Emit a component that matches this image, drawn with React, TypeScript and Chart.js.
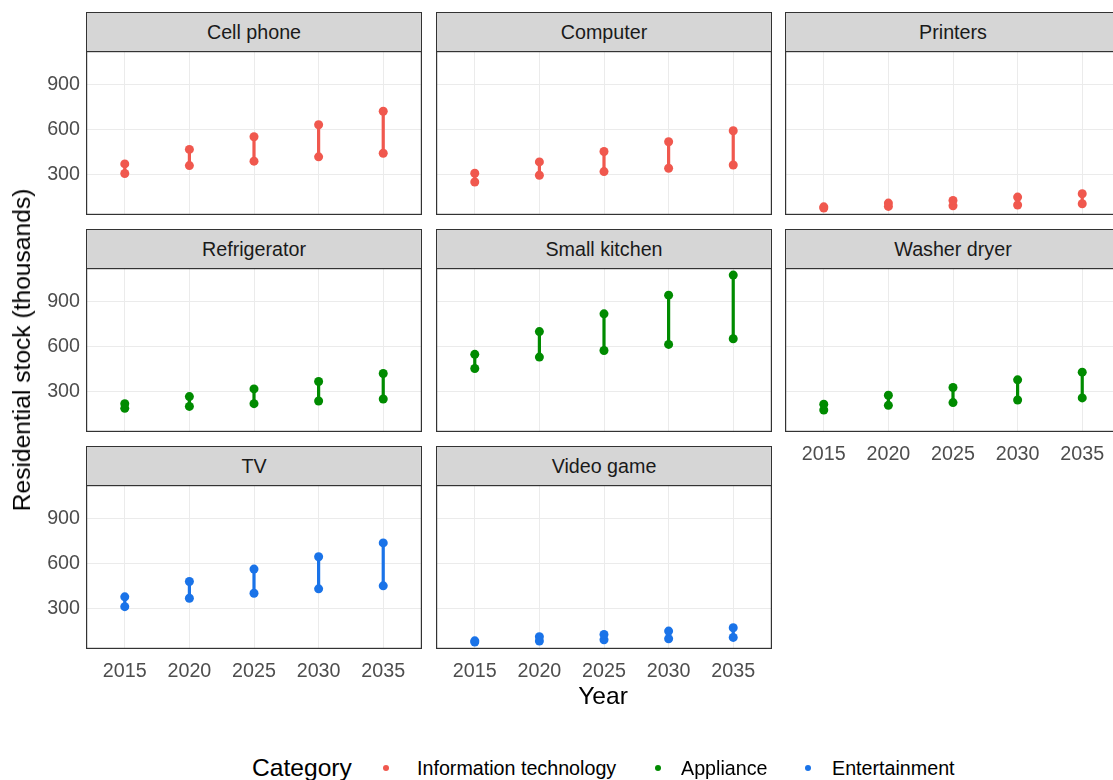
import React, { useEffect, useRef } from "react";
import { Chart, registerables } from "chart.js";

Chart.register(...registerables);

const YEARS = [2015, 2020, 2025, 2030, 2035];
const Y_TICKS = [300, 600, 900];

const CELL_LOW = [307, 360, 389, 418, 442];
const CELL_HIGH = [371, 467, 551, 631, 720];
const COMPUTER_LOW = [251, 296, 320, 342, 364];
const COMPUTER_HIGH = [309, 384, 453, 518, 591];
const PRINTERS_LOW = [78, 89, 93, 98, 107];
const PRINTERS_HIGH = [86, 111, 129, 151, 173];
const FRIDGE_LOW = [189, 202, 220, 238, 251];
const FRIDGE_HIGH = [220, 267, 318, 367, 420];
const KITCHEN_LOW = [453, 529, 573, 613, 651];
const KITCHEN_HIGH = [547, 698, 816, 940, 1073];
const WASHER_LOW = [178, 209, 227, 244, 258];
const WASHER_HIGH = [216, 276, 327, 378, 429];
const TV_LOW = [313, 369, 402, 431, 451];
const TV_HIGH = [378, 480, 562, 644, 736];
const GAME_LOW = [78, 85, 93, 100, 109];
const GAME_HIGH = [86, 114, 129, 151, 173];

const RED = "#F0584E";
const GREEN = "#008B00";
const BLUE = "#1A73E8";

const PANELS = [
  { name: "Cell phone", low: CELL_LOW, high: CELL_HIGH, color: RED, col: 0, row: 0, showX: false },
  { name: "Computer", low: COMPUTER_LOW, high: COMPUTER_HIGH, color: RED, col: 1, row: 0, showX: false },
  { name: "Printers", low: PRINTERS_LOW, high: PRINTERS_HIGH, color: RED, col: 2, row: 0, showX: false },
  { name: "Refrigerator", low: FRIDGE_LOW, high: FRIDGE_HIGH, color: GREEN, col: 0, row: 1, showX: false },
  { name: "Small kitchen", low: KITCHEN_LOW, high: KITCHEN_HIGH, color: GREEN, col: 1, row: 1, showX: false },
  { name: "Washer dryer", low: WASHER_LOW, high: WASHER_HIGH, color: GREEN, col: 2, row: 1, showX: true },
  { name: "TV", low: TV_LOW, high: TV_HIGH, color: BLUE, col: 0, row: 2, showX: true },
  { name: "Video game", low: GAME_LOW, high: GAME_HIGH, color: BLUE, col: 1, row: 2, showX: true },
];

const LEGEND = [
  { label: "Information technology", color: RED, dotX: 386, textX: 417 },
  { label: "Appliance", color: GREEN, dotX: 658, textX: 681 },
  { label: "Entertainment", color: BLUE, dotX: 808, textX: 832 },
];

const COL_X = [86, 436, 785];
const PANEL_W = 336;
const STRIP_Y = [12, 229, 446];
const STRIP_H = 39;
const PANEL_H = 164;
const LEFT_W = 60;
const BOTTOM_H = 40;
const FONT = "'Liberation Sans', Arial, Helvetica, sans-serif";

const borderPlugin = {
  id: "panelBorder",
  afterDraw(chart: any) {
    const { ctx, chartArea } = chart;
    ctx.save();
    ctx.strokeStyle = "#333333";
    ctx.lineWidth = 1.2;
    ctx.strokeRect(chartArea.left + 0.6, chartArea.top + 0.6, chartArea.right - chartArea.left - 1.2, chartArea.bottom - chartArea.top - 1.2);
    ctx.restore();
  },
};

const zeroPad = (s: any) => {
  s.paddingTop = 0;
  s.paddingBottom = 0;
  s.paddingLeft = 0;
  s.paddingRight = 0;
};

function Panel({ p }: { p: any }) {
  const ref = useRef<HTMLCanvasElement | null>(null);
  const showY = p.col === 0;
  const w = PANEL_W + (showY ? LEFT_W : 0);
  const h = PANEL_H + (p.showX ? BOTTOM_H : 0);
  const left = COL_X[p.col] - (showY ? LEFT_W : 0);
  const top = STRIP_Y[p.row] + STRIP_H;

  useEffect(() => {
    if (!ref.current) return;
    const datasets = YEARS.map((yr, i) => ({
      data: [
        { x: yr, y: p.low[i] },
        { x: yr, y: p.high[i] },
      ],
      borderColor: p.color,
      backgroundColor: p.color,
      borderWidth: 3.2,
      pointRadius: 4.5,
      pointBorderWidth: 0,
      pointBackgroundColor: p.color,
      clip: 6,
    }));
    const chart = new Chart(ref.current, {
      type: "line",
      data: { datasets },
      plugins: [borderPlugin],
      options: {
        responsive: false,
        animation: false,
        layout: { padding: 0, autoPadding: false },
        plugins: { legend: { display: false }, tooltip: { enabled: false } },
        scales: {
          x: {
            type: "linear",
            min: 2012,
            max: 2038,
            afterBuildTicks: (s: any) => {
              s.ticks = YEARS.map((v) => ({ value: v }));
            },
            afterFit: (s: any) => {
              s.height = p.showX ? BOTTOM_H : 0;
              zeroPad(s);
            },
            grid: { color: "#EBEBEB", lineWidth: 1, drawTicks: false },
            border: { display: false },
            ticks: {
              display: p.showX,
              color: "#4D4D4D",
              font: { family: FONT, size: 19.7 },
              padding: 11,
              maxRotation: 0,
              autoSkip: false,
              callback: (v: any) => String(v),
            },
          },
          y: {
            type: "linear",
            min: 32,
            max: 1120,
            afterBuildTicks: (s: any) => {
              s.ticks = Y_TICKS.map((v) => ({ value: v }));
            },
            afterFit: (s: any) => {
              s.width = showY ? LEFT_W : 0;
              zeroPad(s);
            },
            grid: { color: "#EBEBEB", lineWidth: 1, drawTicks: false },
            border: { display: false },
            ticks: {
              display: showY,
              color: "#4D4D4D",
              font: { family: FONT, size: 19.7 },
              padding: 6,
              callback: (v: any) => String(v),
            },
          },
        },
      } as any,
    });
    return () => chart.destroy();
  }, []);

  return (
    <>
      <div
        style={{
          position: "absolute",
          left: COL_X[p.col],
          top: STRIP_Y[p.row],
          width: PANEL_W,
          height: STRIP_H,
          boxSizing: "border-box",
          background: "#D6D6D6",
          border: "1.2px solid #333333",
          borderBottom: "none",
          display: "flex",
          alignItems: "center",
          justifyContent: "center",
          fontFamily: FONT,
          fontSize: 19.7,
          color: "#1A1A1A",
        }}
      >
        {p.name}
      </div>
      <canvas
        ref={ref}
        width={w}
        height={h}
        style={{ position: "absolute", left, top, width: w, height: h }}
      />
    </>
  );
}

export default function App() {
  return (
    <div
      style={{
        position: "absolute",
        left: 0,
        top: 0,
        width: 1113,
        height: 780,
        overflow: "hidden",
        background: "#FFFFFF",
        fontFamily: FONT,
      }}
    >
      {PANELS.map((p) => (
        <Panel key={p.name} p={p} />
      ))}
      <div
        style={{
          position: "absolute",
          left: 22,
          top: 350,
          transform: "translate(-50%, -50%) rotate(-90deg)",
          whiteSpace: "nowrap",
          fontSize: 24.6,
          color: "#000000",
        }}
      >
        Residential stock (thousands)
      </div>
      <div
        style={{
          position: "absolute",
          left: 603,
          top: 696,
          transform: "translate(-50%, -50%)",
          whiteSpace: "nowrap",
          fontSize: 24.6,
          color: "#000000",
        }}
      >
        Year
      </div>
      <div
        style={{
          position: "absolute",
          left: 252,
          top: 768,
          transform: "translateY(-50%)",
          whiteSpace: "nowrap",
          fontSize: 24.6,
          color: "#000000",
        }}
      >
        Category
      </div>
      {LEGEND.map((l) => (
        <React.Fragment key={l.label}>
          <div
            style={{
              position: "absolute",
              left: l.dotX - 3,
              top: 768 - 3,
              width: 6,
              height: 6,
              borderRadius: "50%",
              background: l.color,
            }}
          />
          <div
            style={{
              position: "absolute",
              left: l.textX,
              top: 768,
              transform: "translateY(-50%)",
              whiteSpace: "nowrap",
              fontSize: 19.7,
              color: "#000000",
            }}
          >
            {l.label}
          </div>
        </React.Fragment>
      ))}
    </div>
  );
}
